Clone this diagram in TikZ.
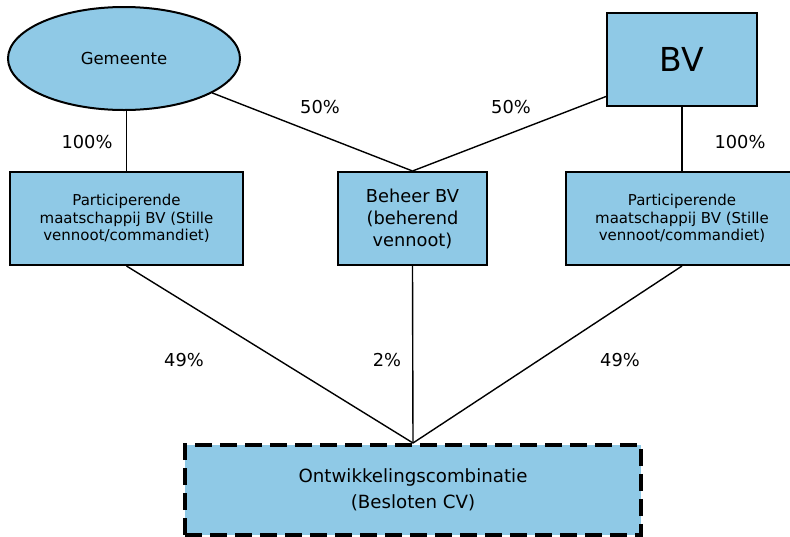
\documentclass[tikz,border=0pt]{standalone}
\usepackage{fontspec}
\setmainfont{DejaVu Sans}
\usetikzlibrary{shapes.geometric}
\definecolor{vakblauw}{RGB}{143,201,230}

\begin{document}
\begin{tikzpicture}[x=1pt,y=-1pt,
	vak/.style={draw=black, line width=2pt, fill=vakblauw, align=center, inner sep=0pt},
	deelbox/.style={vak, minimum width=233pt, minimum height=93pt, font=\fontsize{15}{17.5}\selectfont},
	pct/.style={inner sep=0pt, font=\fontsize{17.8}{21}\selectfont},
	lijn/.style={line width=1.4pt}]
	\useasboundingbox (0,0) rectangle (790,536);
	\clip (0,0) rectangle (790,536);

	% bovenste rij
	\node[vak, ellipse, minimum width=232pt, minimum height=103pt, font=\fontsize{16.5}{19}\selectfont] (gem) at (124,58.5) {Gemeente};
	\node[vak, minimum width=150pt, minimum height=93pt, font=\fontsize{33}{40}\selectfont] (bv) at (682,59.5) {BV};

	% middelste rij
	\node[deelbox] (deel1) at (126.5,218.5) {Participerende\\maatschappij BV (Stille\\vennoot/commandiet)};
	\node[vak, minimum width=149pt, minimum height=93pt, font=\fontsize{17.8}{22}\selectfont] (beheer) at (412.5,218.5) {Beheer BV\\(beherend\\vennoot)};
	\node[deelbox] (deel2) at (682,218.5) {Participerende\\maatschappij BV (Stille\\vennoot/commandiet)};

	% onderste rij
	\node[vak, line width=4pt, dash pattern=on 17pt off 8pt, minimum width=456pt, minimum height=90pt, font=\fontsize{18.2}{26}\selectfont] (ocv) at (413,490) {Ontwikkelingscombinatie\\(Besloten CV)};

	\draw[lijn] (deel1.north) -- (deel1.north |- gem.south);
	\draw[lijn] (gem) -- (beheer.north);
	\draw[lijn] ([yshift=-37pt]bv.west) -- (beheer.north);
	\draw[lijn] (bv.south) -- (deel2.north);

	\draw[lijn] (deel1.south) -- (ocv.north);
	\draw[lijn] (beheer.south) -- (ocv.north);
	\draw[lijn] (deel2.south) -- (ocv.north);

	\node[pct] (p1) at (87,142.5) {100\%};
	\node[pct] (p2) at (320,107) {50\%};
	\node[pct] (p3) at (511,107) {50\%};
	\node[pct] (p4) at (740,142.5) {100\%};
	\node[pct] (p5) at (184,360) {49\%};
	\node[pct] (p6) at (387,360) {2\%};
	\node[pct] (p7) at (620,360) {49\%};
\end{tikzpicture}
\end{document}
